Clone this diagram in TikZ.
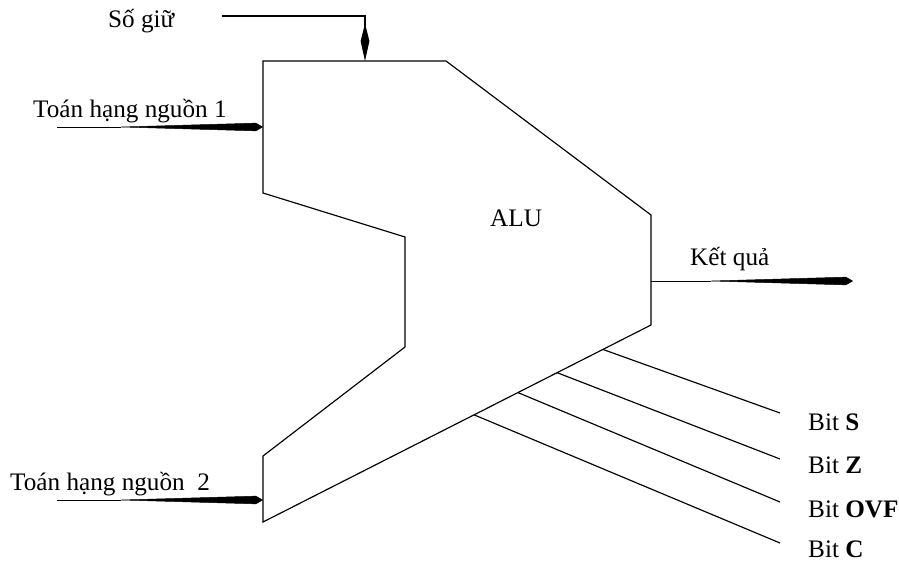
\documentclass[tikz,border=0pt]{standalone}
\usepackage{fontspec}
\setmainfont{Liberation Serif}
\usetikzlibrary{arrows.meta,calc}

\tikzset{
  lbl/.style={anchor=base west, inner sep=0pt, font=\fontsize{21.5}{25}\selectfont},
  alubody/.style={black, line width=1pt},
  flagline/.style={black, line width=1pt},
  fatin/.style={black, thin, -{Kite[length=128pt,width=7pt,inset=122pt]}},
  fatdown/.style={black, line width=1pt, -{Kite[length=32pt,width=7.5pt,inset=15pt]}},
}

\begin{document}
\begin{tikzpicture}[x=0.03cm,y=-0.03cm]
	\useasboundingbox (0,0) rectangle (899,563);
	% ALU body
	\coordinate (tl) at (263,61);
	\coordinate (tr) at (446,61);
	\coordinate (ru) at (651,215);
	\coordinate (rd) at (651,325);
	\coordinate (bl) at (263,522);
	\coordinate (lb) at (263,456);
	\coordinate (nb) at (405,347);
	\coordinate (nt) at (405,237);
	\coordinate (lt) at (263,193);
	\draw [alubody] (tl) to (tr) to (ru) to (rd) to (bl) to (lb) to (nb) to (nt) to (lt) to cycle;
	\node[lbl] (alu) at (490,226) {ALU};

	% inputs
	\node[lbl] (sogiu) at (108,28) {Số giữ};
	\coordinate (sgs) at (222,16);
	\coordinate (sge) at (365,61);
	\draw [fatdown] (sgs) -| (sge);

	\node[lbl] (opa) at (33,118) {Toán hạng nguồn 1};
	\coordinate (opas) at (57,127);
	\coordinate (opae) at (263,127);
	\draw [fatin] (opas) to (opae);

	\node[lbl] (opb) at (10,490) {Toán hạng nguồn\ \ 2};
	\coordinate (opbs) at (57,500);
	\coordinate (opbe) at (263,500);
	\draw [fatin] (opbs) to (opbe);

	% output
	\node[lbl] (res) at (690,265) {Kết quả};
	\coordinate (ress) at (651,281);
	\coordinate (rese) at (853,281);
	\draw [fatin] (ress) to (rese);

	% flags
	\coordinate (fs) at ($(rd)!0.124!(bl)$);
	\coordinate (fz) at ($(rd)!0.242!(bl)$);
	\coordinate (fo) at ($(rd)!0.343!(bl)$);
	\coordinate (fc) at ($(rd)!0.456!(bl)$);
	\coordinate (es) at (780,413);
	\coordinate (ez) at (780,459);
	\coordinate (eo) at (780,502);
	\coordinate (ec) at (780,543);
	\draw [flagline] (fs) to (es);
	\draw [flagline] (fz) to (ez);
	\draw [flagline] (fo) to (eo);
	\draw [flagline] (fc) to (ec);
	\node[lbl] (bits) at (808,430) {Bit \textbf{S}};
	\node[lbl] (bitz) at (808,473) {Bit \textbf{Z}};
	\node[lbl] (bito) at (808,517) {Bit \textbf{OVF}};
	\node[lbl] (bitc) at (808,557) {Bit \textbf{C}};
\end{tikzpicture}
\end{document}
